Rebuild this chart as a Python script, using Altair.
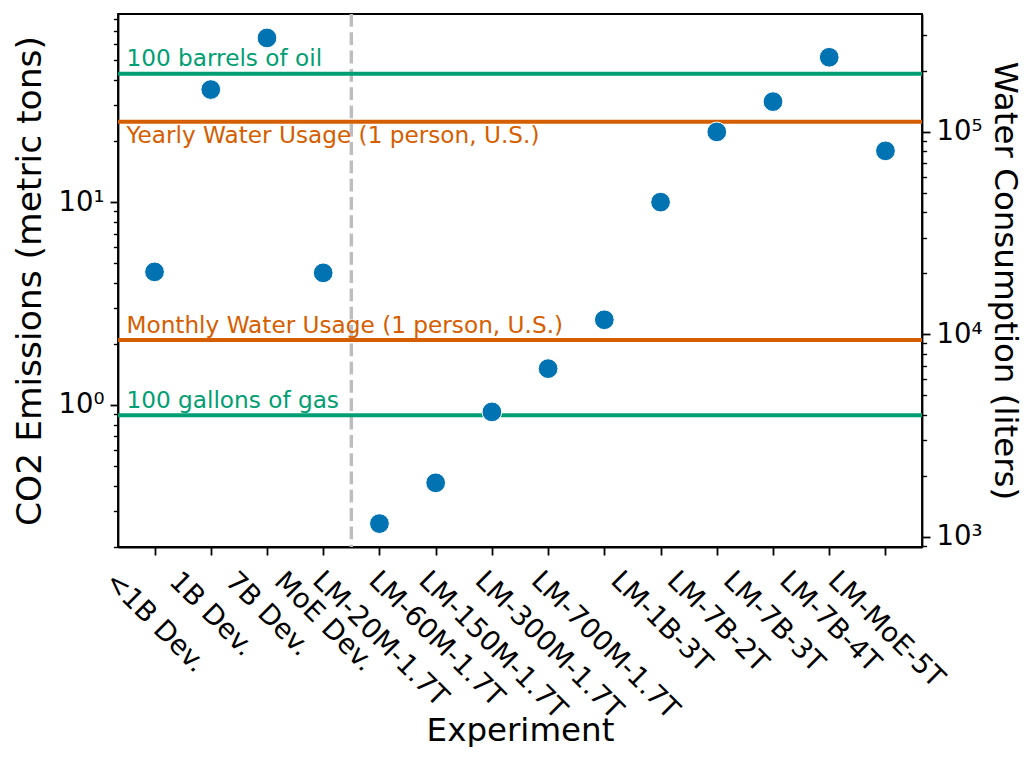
import json
import altair as alt
import pandas as pd

# ---------------- data ----------------
experiments = ["<1B Dev.", "1B Dev.", "7B Dev.", "MoE Dev.", "LM-20M-1.7T", "LM-60M-1.7T",
               "LM-150M-1.7T", "LM-300M-1.7T", "LM-700M-1.7T", "LM-1B-3T", "LM-7B-2T",
               "LM-7B-3T", "LM-7B-4T", "LM-MoE-5T"]
co2_tons = [4.53, 35.9, 64.5, 4.48, 0.26, 0.413, 0.924, 1.51, 2.63, 10.0, 22.2, 31.3, 51.8, 17.9]

co2_ref_labels = ["100 barrels of oil", "100 gallons of gas"]
co2_ref_values = [43.0, 0.889]
water_ref_labels = ["Yearly Water Usage (1 person, U.S.)", "Monthly Water Usage (1 person, U.S.)"]
water_ref_values = [1.12e5, 9.35e3]

co2_domain = [0.1993, 84.66]
water_domain = [888.0, 3.82e5]
co2_ticks = [0.2, 0.3, 0.4, 0.5, 0.6, 0.7, 0.8, 0.9, 1, 2, 3, 4, 5, 6, 7, 8, 9,
             10, 20, 30, 40, 50, 60, 70, 80]
water_ticks = [900, 1000, 2000, 3000, 4000, 5000, 6000, 7000, 8000, 9000,
               10000, 20000, 30000, 40000, 50000, 60000, 70000, 80000, 90000,
               100000, 200000, 300000]

BLUE, GREEN, ORANGE, GREY = "#0173b2", "#029e73", "#d55e00", "#bdbdbd"
FONT = "DejaVu Sans"

points_df = pd.DataFrame({"idx": list(range(len(experiments))),
                          "experiment": experiments, "co2": co2_tons})
co2_ref_df = pd.DataFrame({"label": co2_ref_labels, "val": co2_ref_values})
water_ref_df = pd.DataFrame({"label": water_ref_labels, "val": water_ref_values})

# ---------- x tick label layout (matplotlib-like rotated, centered bbox) ----------
adv = {'<': 0.838, 'B': 0.686, ' ': 0.318, 'D': 0.770, 'e': 0.615, 'v': 0.592,
       '.': 0.318, 'M': 0.863, 'o': 0.612, 'E': 0.632, 'L': 0.557, '-': 0.361, 'T': 0.611}
XFS = 27.5
def text_w(s):
    return sum(adv.get(c, 0.636) for c in s) * XFS
pads = [9.5 + (text_w(s) + 1.164 * XFS) * 0.3536 for s in experiments]
pad_expr = "[" + ",".join(f"{p:.1f}" for p in pads) + "][datum.value]"
xlabel_expr = json.dumps(experiments) + "[datum.value]"

is_dec = "(abs(log(datum.value)/LN10 - round(log(datum.value)/LN10)) < 0.001)"
sup = "['\u207b\u00b9','\u2070','\u00b9','\u00b2','\u00b3','\u2074','\u2075']"
ylabel_expr = f"{is_dec} ? ('10' + {sup}[round(log(datum.value)/LN10)+1]) : ''"

W, H = 804, 533
TXT = 23.2

xscale = alt.Scale(domain=[-0.65, 13.65], nice=False, zero=False)
xaxis = alt.Axis(values=list(range(len(experiments))), labelExpr=xlabel_expr,
                 labelAngle=45, labelAlign="center", labelBaseline="middle",
                 labelPadding={"expr": pad_expr}, labelFontSize=XFS, labelLimit=600,
                 labelOverlap=False, labelFlush=False, labelBound=False,
                 tickSize=8, tickWidth=1.8, grid=False,
                 title="Experiment", titleFontSize=32.5, titleX=W / 2, titleY=193,
                 titleAlign="center", titleBaseline="alphabetic")

def x_field():
    return alt.X("idx:Q", scale=xscale, axis=xaxis)

def x_datum(v):
    return alt.XDatum(v, type="quantitative", scale=xscale, axis=xaxis)

left_scale = alt.Scale(type="log", domain=co2_domain, nice=False)
right_scale = alt.Scale(type="log", domain=water_domain, nice=False)

def yaxis(orient, ticks, title, tx, angle, tfs):
    return alt.Axis(orient=orient, values=ticks, labelExpr=ylabel_expr,
                    tickSize={"expr": f"{is_dec} ? 8 : 4.6"},
                    tickWidth={"expr": f"{is_dec} ? 1.8 : 1.4"},
                    labelFontSize=XFS, labelPadding=6, labelOverlap=False,
                    labelFlush=False, labelBound=False, grid=False,
                    title=title, titleFontSize=tfs, titleX=tx, titleY=H / 2,
                    titleAngle=angle, titleAlign="center", titleBaseline="middle")

left_axis = yaxis("left", co2_ticks, "CO2 Emissions (metric tons)", -88, 270, 34.5)
right_axis = yaxis("right", water_ticks, "Water Consumption (liters)", 82, 90, 32.5)

# ---------------- right (water) layer ----------------
divider = alt.Chart(alt.Data(values=[{}])).mark_rule(
    color=GREY, strokeWidth=3.4, strokeDash=[12.8, 5.5]
).encode(x=x_datum(3.5))

water_rules = alt.Chart(water_ref_df).mark_rule(color=ORANGE, strokeWidth=4).encode(
    y=alt.Y("val:Q", scale=right_scale, axis=right_axis)
)
yearly_text = alt.Chart(water_ref_df).transform_filter(
    alt.datum.label == water_ref_labels[0]
).mark_text(align="left", baseline="top", dy=3, fontSize=TXT, font=FONT, color=ORANGE).encode(
    x=x_datum(-0.5), y=alt.Y("val:Q", scale=right_scale, axis=right_axis), text="label:N"
)
monthly_text = alt.Chart(water_ref_df).transform_filter(
    alt.datum.label == water_ref_labels[1]
).mark_text(align="left", baseline="bottom", dy=-2.3, fontSize=TXT, font=FONT, color=ORANGE).encode(
    x=x_datum(-0.5), y=alt.Y("val:Q", scale=right_scale, axis=right_axis), text="label:N"
)
right_layer = alt.layer(divider, water_rules, yearly_text, monthly_text)

# ---------------- left (CO2) layer ----------------
co2_rules = alt.Chart(co2_ref_df).mark_rule(color=GREEN, strokeWidth=4).encode(
    y=alt.Y("val:Q", scale=left_scale, axis=left_axis)
)
co2_text = alt.Chart(co2_ref_df).mark_text(
    align="left", baseline="bottom", dy=-2.3, fontSize=TXT, font=FONT, color=GREEN
).encode(
    x=x_datum(-0.5), y=alt.Y("val:Q", scale=left_scale, axis=left_axis), text="label:N"
)
points = alt.Chart(points_df).mark_circle(
    size=390, color=BLUE, opacity=1, stroke="white", strokeWidth=1
).encode(
    x=x_field(), y=alt.Y("co2:Q", scale=left_scale, axis=left_axis)
)
left_layer = alt.layer(co2_rules, co2_text, points)

chart = alt.layer(right_layer, left_layer).resolve_scale(y="independent").properties(
    width=W, height=H,
    padding={"left": 110, "top": 6, "right": 104, "bottom": 200},
    autosize=alt.AutoSizeParams(type="none"),
).configure_view(
    stroke="black", strokeWidth=1.8
).configure_axis(
    domainColor="black", domainWidth=1.8, tickColor="black",
    labelColor="black", titleColor="black", labelFont=FONT, titleFont=FONT,
    titleFontWeight="normal"
)

chart.save("out.html", embed_options={"renderer": "svg", "actions": False})
